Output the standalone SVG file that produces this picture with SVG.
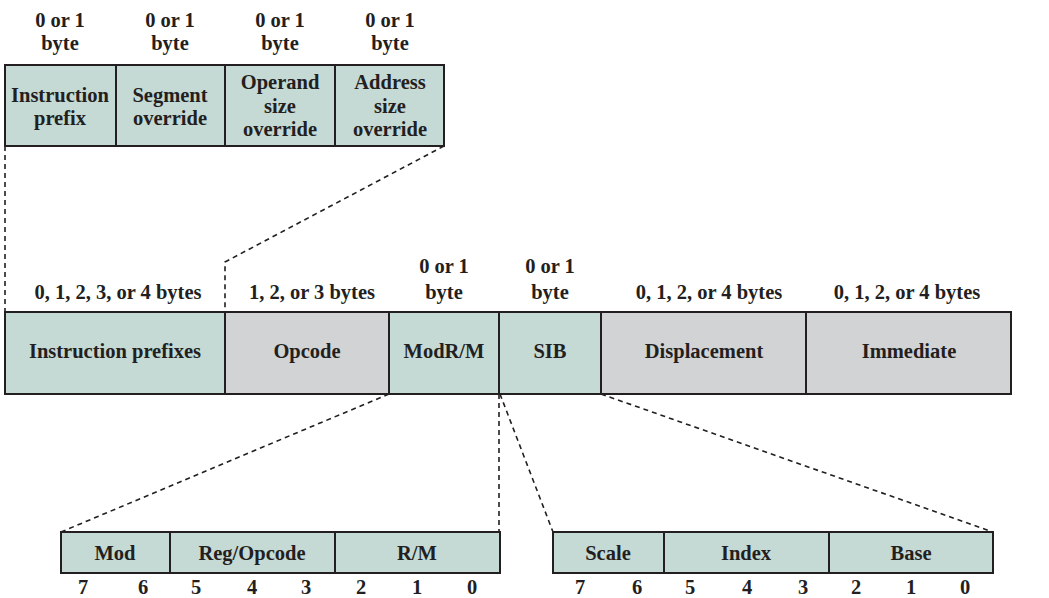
<svg xmlns="http://www.w3.org/2000/svg" width="1049" height="598" viewBox="0 0 1049 598">
<style>
text{font-family:"Liberation Serif","Times New Roman",serif;font-weight:bold;font-size:20.5px;fill:#231f20;text-anchor:middle}
.t{fill:#c5d9d5;stroke:#231f20;stroke-width:2}
.g{fill:#d1d3d4;stroke:#231f20;stroke-width:2}
.d{fill:none;stroke:#231f20;stroke-width:1.6;stroke-dasharray:5,4}
</style>
<rect width="1049" height="598" fill="#fff"/>
<g id="connectors">
<path class="d" d="M5,146 V312"/>
<path class="d" d="M444,146 L225,262 V312"/>
<path class="d" d="M389,394 L61,532"/>
<path class="d" d="M499,394 V532"/>
<path class="d" d="M500,394 L553,532"/>
<path class="d" d="M601,394 L993,532"/>
</g>
<g id="prefix-labels">
<text x="60" y="27">0 or 1</text><text x="60" y="50">byte</text>
<text x="170" y="27">0 or 1</text><text x="170" y="50">byte</text>
<text x="280" y="27">0 or 1</text><text x="280" y="50">byte</text>
<text x="390" y="27">0 or 1</text><text x="390" y="50">byte</text>
</g>
<g id="instruction-prefix"><rect class="t" x="5" y="65" width="111" height="81"/><text x="60" y="102">Instruction</text><text x="60" y="125">prefix</text></g>
<g id="segment-override"><rect class="t" x="116" y="65" width="109" height="81"/><text x="170" y="102">Segment</text><text x="170" y="125">override</text></g>
<g id="operand-size-override"><rect class="t" x="225" y="65" width="110" height="81"/><text x="280" y="89">Operand</text><text x="280" y="113">size</text><text x="280" y="136">override</text></g>
<g id="address-size-override"><rect class="t" x="335" y="65" width="109" height="81"/><text x="390" y="89">Address</text><text x="390" y="113">size</text><text x="390" y="136">override</text></g>
<g id="main-labels">
<text x="118" y="299">0, 1, 2, 3, or 4 bytes</text>
<text x="312" y="299">1, 2, or 3 bytes</text>
<text x="444" y="273">0 or 1</text><text x="444" y="299">byte</text>
<text x="550" y="273">0 or 1</text><text x="550" y="299">byte</text>
<text x="709" y="299">0, 1, 2, or 4 bytes</text>
<text x="907" y="299">0, 1, 2, or 4 bytes</text>
</g>
<g id="instruction-prefixes"><rect class="t" x="5" y="312" width="220" height="82"/><text x="115" y="358">Instruction prefixes</text></g>
<g id="opcode"><rect class="g" x="225" y="312" width="164" height="82"/><text x="307" y="358">Opcode</text></g>
<g id="modrm"><rect class="t" x="389" y="312" width="110" height="82"/><text x="444" y="358">ModR/M</text></g>
<g id="sib"><rect class="t" x="499" y="312" width="102" height="82"/><text x="550" y="358">SIB</text></g>
<g id="displacement"><rect class="g" x="601" y="312" width="205" height="82"/><text x="704" y="358">Displacement</text></g>
<g id="immediate"><rect class="g" x="806" y="312" width="205" height="82"/><text x="909" y="358">Immediate</text></g>
<g id="mod"><rect class="t" x="61" y="532" width="109" height="41"/><text x="115" y="560">Mod</text></g>
<g id="reg-opcode"><rect class="t" x="170" y="532" width="165" height="41"/><text x="252" y="560">Reg/Opcode</text></g>
<g id="rm"><rect class="t" x="335" y="532" width="165" height="41"/><text x="417" y="560">R/M</text></g>
<g id="scale"><rect class="t" x="553" y="532" width="111" height="41"/><text x="608" y="560">Scale</text></g>
<g id="index"><rect class="t" x="664" y="532" width="165" height="41"/><text x="746" y="560">Index</text></g>
<g id="base"><rect class="t" x="829" y="532" width="164" height="41"/><text x="911" y="560">Base</text></g>
<g id="bit-numbers">
<text x="83" y="594">7</text><text x="143" y="594">6</text><text x="196" y="594">5</text><text x="252" y="594">4</text><text x="306" y="594">3</text><text x="361" y="594">2</text><text x="417" y="594">1</text><text x="472" y="594">0</text>
<text x="580" y="594">7</text><text x="637" y="594">6</text><text x="690" y="594">5</text><text x="747" y="594">4</text><text x="803" y="594">3</text><text x="856" y="594">2</text><text x="911" y="594">1</text><text x="965" y="594">0</text>
</g>
</svg>
